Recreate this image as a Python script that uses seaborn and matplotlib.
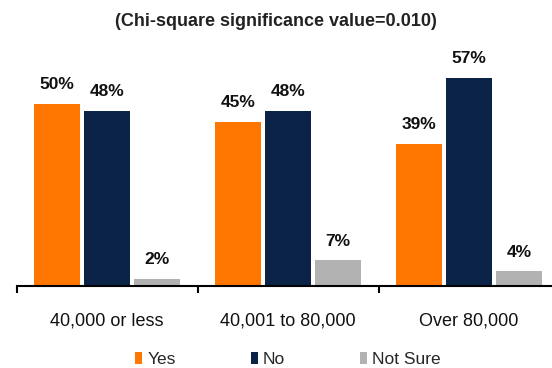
import matplotlib
matplotlib.use("Agg")
import matplotlib.pyplot as plt
from matplotlib.patches import Patch
import seaborn as sns
import pandas as pd

categories = ["40,000 or less", "40,001 to 80,000", "Over 80,000"]
responses = ["Yes", "No", "Not Sure"]
yes_values = [50, 45, 39]
no_values = [48, 48, 57]
not_sure_values = [2, 7, 4]
colors = ["#FF7700", "#0A2346", "#B2B2B2"]
title = "(Chi-square significance value=0.010)"

rows = []
for resp, vals in zip(responses, [yes_values, no_values, not_sure_values]):
    for cat, v in zip(categories, vals):
        rows.append({"Income": cat, "Response": resp, "Percent": v})
df = pd.DataFrame(rows)

sns.set_style("white")
plt.rcParams["font.family"] = ["Liberation Sans", "DejaVu Sans"]

fig = plt.figure(figsize=(5.52, 3.68), dpi=100)
ax = fig.add_axes([16.5 / 552, 82 / 368, 543 / 552, 219 / 368])

sns.barplot(data=df, x="Income", y="Percent", hue="Response",
            order=categories, hue_order=responses, palette=colors,
            width=0.83, gap=0.08, saturation=1, linewidth=0,
            legend=False, ax=ax)

ax.set_xlim(-0.5, 2.5)
ax.set_ylim(0, 60)

for container in ax.containers:
    ax.bar_label(container, fmt="%d%%", padding=8.5,
                 fontsize=12.5, fontweight="bold", color="#111111")

for side in ["top", "right", "left"]:
    ax.spines[side].set_visible(False)
ax.spines["bottom"].set_linewidth(1.5)
ax.spines["bottom"].set_color("black")
ax.set_yticks([])
ax.set_xlabel("")
ax.set_ylabel("")

# boundary ticks between income groups, labels placed under group centres
ax.set_xticks([-0.5, 0.5, 1.5, 2.5])
ax.set_xticklabels([])
ax.tick_params(axis="x", length=5, width=1.5, color="black", direction="out", bottom=True)
for i, cat in enumerate(categories):
    ax.annotate(cat, xy=(i, 368 - 321.5), xycoords=("data", "figure pixels"),
                ha="center", va="center", fontsize=13, color="#111111",
                annotation_clip=False)

fig.text(0.5, 1 - 22 / 368, title, ha="center", va="center",
         fontsize=13, fontweight="bold", color="#222222")

handles = [Patch(facecolor=c, edgecolor="none", label=r) for c, r in zip(colors, responses)]
fig.legend(handles=handles, loc="center", bbox_to_anchor=(288 / 552, 8.5 / 368),
           ncol=3, frameon=False, fontsize=12.5, handlelength=0.42,
           handleheight=0.65, handletextpad=0.3, columnspacing=4.3,
           borderaxespad=0, borderpad=0)

fig.savefig("out.png", dpi=100)
